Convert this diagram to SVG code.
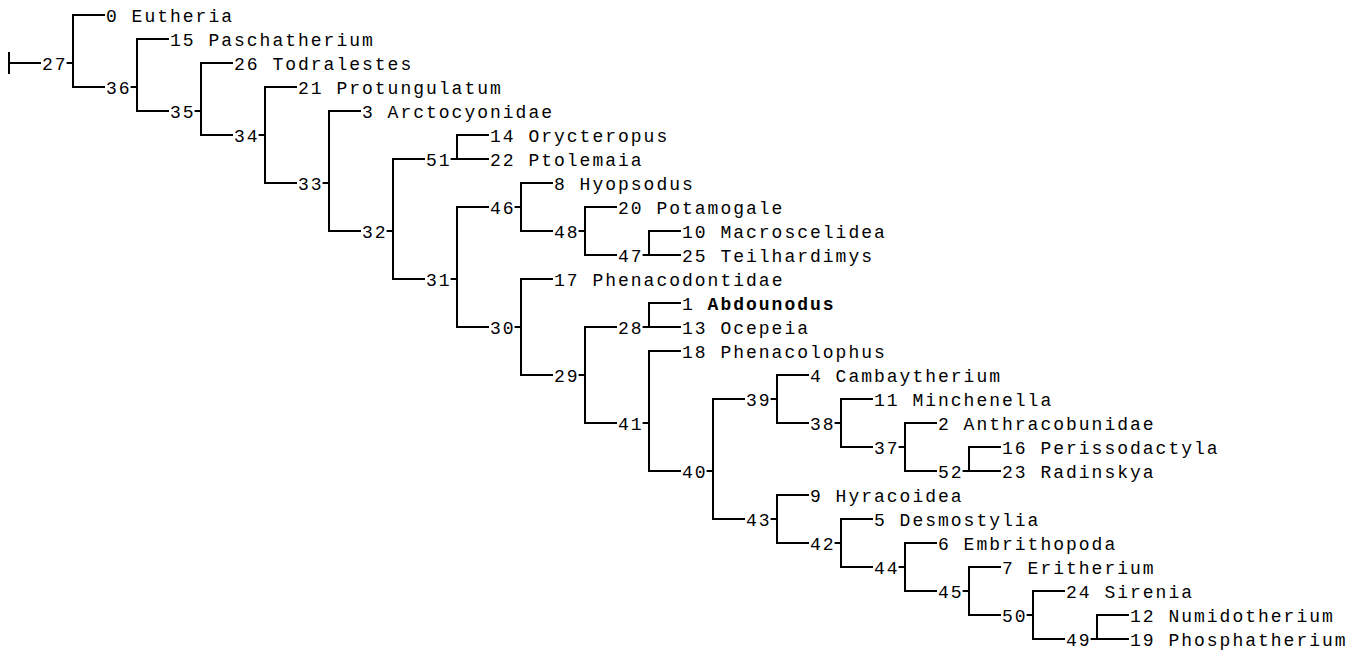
<svg xmlns="http://www.w3.org/2000/svg" width="1365" height="656" viewBox="0 0 1365 656">
<style>
  text { font-family: "Liberation Mono", "Courier New", monospace; font-size: 18px; letter-spacing: 2px; fill: #000; }
  .b { font-weight: bold; }
  .c path { fill: none; stroke: #000; stroke-width: 2; stroke-linejoin: miter; }
</style>
<rect width="1365" height="656" fill="#fff"/>
<g id="connectors" class="c">
  <path d="M9 52 V74 M9 63 H41"/>
  <path d="M105 15 H73 V87 H105 M66.6 63 H73"/>
  <path d="M169 39 H137 V111 H169 M130.6 87 H137"/>
  <path d="M233 63 H201 V135 H233 M194.6 111 H201"/>
  <path d="M297 87 H265 V183 H297 M258.6 135 H265"/>
  <path d="M361 111 H329 V231 H361 M322.6 183 H329"/>
  <path d="M425 159 H393 V279 H425 M386.6 231 H393"/>
  <path d="M489 135 H457 V159 H489 M450.6 159 H457"/>
  <path d="M489 207 H457 V327 H489 M450.6 279 H457"/>
  <path d="M553 183 H521 V231 H553 M514.6 207 H521"/>
  <path d="M617 207 H585 V255 H617 M578.6 231 H585"/>
  <path d="M681 231 H649 V255 H681 M642.6 255 H649"/>
  <path d="M553 279 H521 V375 H553 M514.6 327 H521"/>
  <path d="M617 327 H585 V423 H617 M578.6 375 H585"/>
  <path d="M681 303 H649 V327 H681 M642.6 327 H649"/>
  <path d="M681 351 H649 V471 H681 M642.6 423 H649"/>
  <path d="M745 399 H713 V519 H745 M706.6 471 H713"/>
  <path d="M809 375 H777 V423 H809 M770.6 399 H777"/>
  <path d="M873 399 H841 V447 H873 M834.6 423 H841"/>
  <path d="M937 423 H905 V471 H937 M898.6 447 H905"/>
  <path d="M1001 447 H969 V471 H1001 M962.6 471 H969"/>
  <path d="M809 495 H777 V543 H809 M770.6 519 H777"/>
  <path d="M873 519 H841 V567 H873 M834.6 543 H841"/>
  <path d="M937 543 H905 V591 H937 M898.6 567 H905"/>
  <path d="M1001 567 H969 V615 H1001 M962.6 591 H969"/>
  <path d="M1065 591 H1033 V639 H1065 M1026.6 615 H1033"/>
  <path d="M1129 615 H1097 V639 H1129 M1090.6 639 H1097"/>
</g>
<g id="n27"><text x="42" y="69.5">27</text></g>
<g id="n36"><text x="106" y="93.5">36</text></g>
<g id="n35"><text x="170" y="117.5">35</text></g>
<g id="n34"><text x="234" y="141.5">34</text></g>
<g id="n33"><text x="298" y="189.5">33</text></g>
<g id="n32"><text x="362" y="237.5">32</text></g>
<g id="n51"><text x="426" y="165.5">51</text></g>
<g id="n31"><text x="426" y="285.5">31</text></g>
<g id="n46"><text x="490" y="213.5">46</text></g>
<g id="n48"><text x="554" y="237.5">48</text></g>
<g id="n47"><text x="618" y="261.5">47</text></g>
<g id="n30"><text x="490" y="333.5">30</text></g>
<g id="n29"><text x="554" y="381.5">29</text></g>
<g id="n28"><text x="618" y="333.5">28</text></g>
<g id="n41"><text x="618" y="429.5">41</text></g>
<g id="n40"><text x="682" y="477.5">40</text></g>
<g id="n39"><text x="746" y="405.5">39</text></g>
<g id="n38"><text x="810" y="429.5">38</text></g>
<g id="n37"><text x="874" y="453.5">37</text></g>
<g id="n52"><text x="938" y="477.5">52</text></g>
<g id="n43"><text x="746" y="525.5">43</text></g>
<g id="n42"><text x="810" y="549.5">42</text></g>
<g id="n44"><text x="874" y="573.5">44</text></g>
<g id="n45"><text x="938" y="597.5">45</text></g>
<g id="n50"><text x="1002" y="621.5">50</text></g>
<g id="n49"><text x="1066" y="645.5">49</text></g>
<g id="t0"><text x="106" y="21.5">0 Eutheria</text></g>
<g id="t15"><text x="170" y="45.5">15 Paschatherium</text></g>
<g id="t26"><text x="234" y="69.5">26 Todralestes</text></g>
<g id="t21"><text x="298" y="93.5">21 Protungulatum</text></g>
<g id="t3"><text x="362" y="117.5">3 Arctocyonidae</text></g>
<g id="t14"><text x="490" y="141.5">14 Orycteropus</text></g>
<g id="t22"><text x="490" y="165.5">22 Ptolemaia</text></g>
<g id="t8"><text x="554" y="189.5">8 Hyopsodus</text></g>
<g id="t20"><text x="618" y="213.5">20 Potamogale</text></g>
<g id="t10"><text x="682" y="237.5">10 Macroscelidea</text></g>
<g id="t25"><text x="682" y="261.5">25 Teilhardimys</text></g>
<g id="t17"><text x="554" y="285.5">17 Phenacodontidae</text></g>
<g id="t1"><text x="682" y="309.5">1 <tspan class="b">Abdounodus</tspan></text></g>
<g id="t13"><text x="682" y="333.5">13 Ocepeia</text></g>
<g id="t18"><text x="682" y="357.5">18 Phenacolophus</text></g>
<g id="t4"><text x="810" y="381.5">4 Cambaytherium</text></g>
<g id="t11"><text x="874" y="405.5">11 Minchenella</text></g>
<g id="t2"><text x="938" y="429.5">2 Anthracobunidae</text></g>
<g id="t16"><text x="1002" y="453.5">16 Perissodactyla</text></g>
<g id="t23"><text x="1002" y="477.5">23 Radinskya</text></g>
<g id="t9"><text x="810" y="501.5">9 Hyracoidea</text></g>
<g id="t5"><text x="874" y="525.5">5 Desmostylia</text></g>
<g id="t6"><text x="938" y="549.5">6 Embrithopoda</text></g>
<g id="t7"><text x="1002" y="573.5">7 Eritherium</text></g>
<g id="t24"><text x="1066" y="597.5">24 Sirenia</text></g>
<g id="t12"><text x="1130" y="621.5">12 Numidotherium</text></g>
<g id="t19"><text x="1130" y="645.5">19 Phosphatherium</text></g>
</svg>
